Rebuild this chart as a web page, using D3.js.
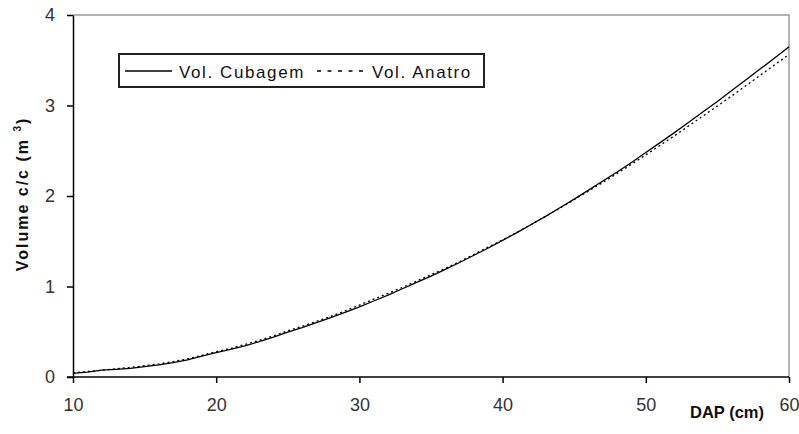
<!DOCTYPE html>
<html><head><meta charset="utf-8">
<script src="https://cdn.jsdelivr.net/npm/d3@7"></script>
<style>body{margin:0;background:#fff}svg{display:block}</style>
</head><body>
<svg id="c" width="799" height="434"></svg>
<script>
const dap = d3.range(10, 61);
const volCubagem = [0.040,0.055,0.075,0.085,0.095,0.115,0.135,0.160,0.190,0.230,
0.270,0.305,0.345,0.390,0.440,0.495,0.545,0.600,0.655,0.715,
0.775,0.840,0.905,0.975,1.045,1.115,1.190,1.265,1.345,1.425,
1.510,1.595,1.685,1.775,1.870,1.965,2.065,2.165,2.265,2.370,
2.480,2.590,2.700,2.815,2.930,3.045,3.165,3.285,3.405,3.525,3.650];
const volAnatro = [0.045,0.060,0.075,0.090,0.105,0.125,0.145,0.170,0.200,0.240,
0.280,0.315,0.360,0.405,0.455,0.510,0.560,0.615,0.670,0.730,
0.795,0.860,0.925,0.990,1.060,1.130,1.200,1.275,1.355,1.435,
1.515,1.600,1.685,1.775,1.865,1.960,2.055,2.150,2.250,2.350,
2.455,2.560,2.665,2.775,2.885,2.995,3.105,3.220,3.335,3.450,3.565];
const xTicks = [10,20,30,40,50,60];
const yTicks = [0,1,2,3,4];
const seriesNames = ["Vol. Cubagem","Vol. Anatro"];

const svg = d3.select("#c");
const x = d3.scaleLinear().domain([10,60]).range([73,789]);
const y = d3.scaleLinear().domain([0,4]).range([377,15]);
const font = "'Liberation Sans', Arial, sans-serif";

// plot border (gray top and right)
svg.append("path").attr("d",`M${x(10)},${y(4)}H${x(60)}V${y(0)}`)
  .attr("fill","none").attr("stroke","#9a9a9a").attr("stroke-width",1.5);

// axes
const gx = svg.append("g").attr("transform",`translate(0,${y(0)})`)
  .call(d3.axisBottom(x).tickValues(xTicks).tickFormat(d3.format("d")).tickSize(6).tickPadding(15).tickSizeOuter(0));
const gy = svg.append("g").attr("transform",`translate(${x(10)},0)`)
  .call(d3.axisLeft(y).tickValues(yTicks).tickFormat(d3.format("d")).tickSize(6).tickPadding(12).tickSizeOuter(0));
[gx,gy].forEach(g=>{
  g.select(".domain").attr("stroke","#000").attr("stroke-width",1.5);
  g.selectAll(".tick line").attr("stroke","#000").attr("stroke-width",1.5);
  g.selectAll(".tick text").attr("font-family",font).attr("font-size",18).attr("fill","#333");
});
gx.select(".domain").attr("d",`M${x(10)-6},0H${x(60)}`);

// lines
const line = d3.line().x((d,i)=>x(dap[i])).y(d=>y(d));
svg.append("path").datum(volAnatro).attr("d",line).attr("fill","none")
  .attr("stroke","#000").attr("stroke-width",1.3).attr("stroke-dasharray","2,3");
svg.append("path").datum(volCubagem).attr("d",line).attr("fill","none")
  .attr("stroke","#000").attr("stroke-width",1.3);

// axis titles
svg.append("text").attr("x",727).attr("y",418).attr("text-anchor","middle")
  .attr("font-family",font).attr("font-weight","bold").attr("font-size",16.5)
  .attr("fill","#111").text("DAP (cm)");
const yt = svg.append("text").attr("transform","translate(28,194) rotate(-90)")
  .attr("text-anchor","middle").attr("font-family",font).attr("font-weight","bold")
  .attr("font-size",16).attr("letter-spacing",2).attr("fill","#111");
yt.append("tspan").text("Volume c/c (m ");
yt.append("tspan").attr("dy",-7).attr("font-size",10).text("3");
yt.append("tspan").attr("dy",7).text(")");

// legend
const lg = svg.append("g");
lg.append("rect").attr("x",119).attr("y",54).attr("width",365).attr("height",33)
  .attr("fill","#fff").attr("stroke","#222").attr("stroke-width",2);
lg.append("line").attr("x1",125).attr("x2",172).attr("y1",71).attr("y2",71)
  .attr("stroke","#000").attr("stroke-width",1.3);
lg.append("text").attr("x",179).attr("y",78).attr("font-family",font).attr("font-size",17)
  .attr("letter-spacing",1.6).attr("fill","#111").text(seriesNames[0]);
lg.append("line").attr("x1",317).attr("x2",363).attr("y1",71).attr("y2",71)
  .attr("stroke","#000").attr("stroke-width",1.3).attr("stroke-dasharray","4,6.5");
lg.append("text").attr("x",372).attr("y",78).attr("font-family",font).attr("font-size",17)
  .attr("letter-spacing",1.6).attr("fill","#111").text(seriesNames[1]);
</script>
</body></html>
